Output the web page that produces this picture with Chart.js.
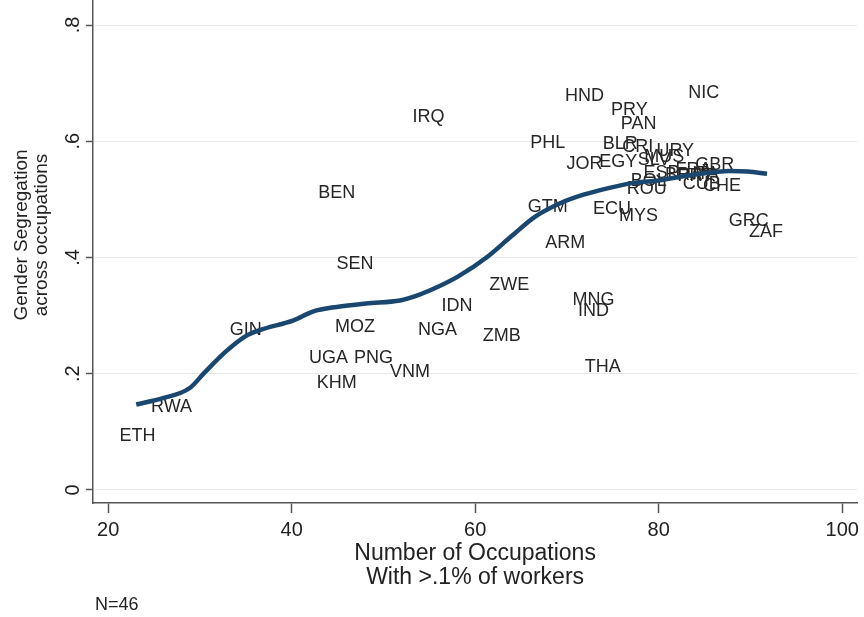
<!DOCTYPE html>
<html><head><meta charset="utf-8">
<script src="https://cdn.jsdelivr.net/npm/chart.js@4.4.1/dist/chart.umd.min.js"></script>
<style>html,body{margin:0;padding:0;background:#fff;}canvas{display:block;}</style>
</head><body>
<canvas id="c" width="864" height="617"></canvas>
<script>
const countries = ['ETH','RWA','GIN','UGA','PNG','KHM','MOZ','VNM','SEN','BEN',
  'IRQ','IDN','NGA','ZMB','ZWE','GTM','ARM','PHL','HND','JOR',
  'MNG','IND','THA','ECU','MYS','EGY','BLR','CRI','PRY','PAN',
  'SLV','URY','NIC','GBR','CHE','GRC','ZAF','ROU','BOL','MUS',
  'ESP','BRA','PRT','ITA','CUB','FRA'];
const occupations = [23.2,26.9,35.0,44.0,48.9,44.9,46.9,52.9,46.9,44.9,
  54.9,58.0,55.9,62.9,63.7,67.9,69.8,67.9,71.9,71.9,
  72.9,72.9,73.9,74.9,77.8,75.6,75.8,77.7,76.8,77.8,
  79.5,81.8,84.9,86.1,86.9,89.8,91.7,78.7,78.9,80.6,
  80.3,82.7,84.0,85.1,84.7,83.8];
const segregation = [0.093,0.143,0.275,0.227,0.227,0.184,0.280,0.203,0.389,0.511,
  0.642,0.317,0.275,0.265,0.353,0.487,0.425,0.597,0.678,0.561,
  0.327,0.308,0.212,0.483,0.471,0.565,0.595,0.590,0.654,0.630,
  0.568,0.583,0.683,0.559,0.523,0.463,0.444,0.518,0.532,0.573,
  0.545,0.542,0.540,0.544,0.526,0.551];
const lowessX = [23.05,25.95,28.85,30.44,32.8,34.9,36.5,40.2,42.3,44.9,48.1,51.8,53.4,56.0,58.1,61.3,63.9,66.5,69.2,71.8,74.4,77.1,79.7,82.35,85.0,87.6,89.7,91.8];
const lowessY = [0.147,0.158,0.175,0.201,0.238,0.264,0.275,0.292,0.307,0.315,0.321,0.326,0.333,0.350,0.367,0.401,0.436,0.470,0.493,0.508,0.519,0.528,0.532,0.539,0.545,0.549,0.548,0.544];
const xTicks = [20,40,60,80,100];
const yTicks = [0,0.2,0.4,0.6,0.8];
const yTickLabels = ['0','.2','.4','.6','.8'];
const xTitle = ['Number of Occupations','With >.1% of workers'];
const yTitle = ['Gender Segregation','across occupations'];
const note = 'N=46';

const FAM = '"Liberation Sans", Arial, Helvetica, sans-serif';

const labelPlugin = {
  id: 'textLabels',
  beforeDraw(chart){
    const ctx = chart.ctx;
    ctx.save(); ctx.fillStyle = '#fff'; ctx.fillRect(0,0,chart.width,chart.height); ctx.restore();
  },
  beforeDatasetsDraw(chart){
    const {ctx, scales:{x, y}} = chart;
    ctx.save();
    ctx.font = '18px ' + FAM;
    ctx.fillStyle = '#262626';
    ctx.textAlign = 'center';
    ctx.textBaseline = 'middle';
    countries.forEach((c, i) => {
      ctx.fillText(c, x.getPixelForValue(occupations[i]), y.getPixelForValue(segregation[i]));
    });
    ctx.restore();
  },
  afterDraw(chart){
    const {ctx, scales:{y}} = chart;
    ctx.save();
    ctx.font = '20px ' + FAM;
    ctx.fillStyle = '#222';
    ctx.textAlign = 'center';
    ctx.textBaseline = 'middle';
    yTicks.forEach((v, i) => {
      ctx.save();
      ctx.translate(y.right - 20, y.getPixelForValue(v));
      ctx.rotate(-Math.PI/2);
      ctx.fillText(yTickLabels[i], 0, 0);
      ctx.restore();
    });
    // y axis title (two lines, rotated)
    ctx.font = '19px ' + FAM;
    const cy = (y.top + y.bottom) / 2 - 17;
    yTitle.forEach((t, i) => {
      ctx.save();
      ctx.translate(22 + i * 20, cy);
      ctx.rotate(-Math.PI/2);
      ctx.fillText(t, 0, 0);
      ctx.restore();
    });
    ctx.font = '18px ' + FAM;
    ctx.textAlign = 'left';
    ctx.fillText(note, 95, 605);
    ctx.restore();
  }
};

new Chart(document.getElementById('c'), {
  type: 'scatter',
  data: {
    datasets: [
      { label: 'countries', data: occupations.map((v,i)=>({x:v, y:segregation[i]})), pointRadius: 0, showLine: false },
      { label: 'lowess', type: 'line', data: lowessX.map((v,i)=>({x:v, y:lowessY[i]})),
        borderColor: '#1a476f', borderWidth: 4.5, pointRadius: 0, fill: false,
        cubicInterpolationMode: 'monotone', borderCapStyle: 'butt', borderJoinStyle: 'round' }
    ]
  },
  options: {
    responsive: false, animation: false, devicePixelRatio: 1,
    layout: { padding: { left: 0, right: 4, top: 1, bottom: 0 } },
    plugins: { legend: { display: false }, tooltip: { enabled: false } },
    scales: {
      x: {
        type: 'linear', min: 18.34, max: 101.63,
        afterBuildTicks: s => { s.ticks = xTicks.map(v => ({ value: v })); },
        afterFit: s => { s.height = 114; },
        ticks: { font: { size: 20, family: FAM }, color: '#222', padding: 5, maxRotation: 0, autoSkip: false,
                 callback: v => String(v) },
        grid: { drawOnChartArea: false, drawTicks: true, tickLength: 10, tickColor: '#555', tickWidth: 1.5 },
        border: { display: true, color: '#555', width: 1.5 },
        title: { display: true, text: xTitle, font: { size: 23, family: FAM, lineHeight: 1.05 }, color: '#222',
                 padding: { top: 0, bottom: 27 } }
      },
      y: {
        type: 'linear', min: -0.02237, max: 0.8413,
        afterBuildTicks: s => { s.ticks = yTicks.map(v => ({ value: v })); },
        afterFit: s => { s.width = 93; },
        ticks: { display: false },
        grid: { color: '#e8e8e8', lineWidth: 1, drawTicks: true, tickLength: 7, tickColor: '#555', tickWidth: 1.5 },
        border: { display: true, color: '#555', width: 1.5 },
        title: { display: false }
      }
    }
  },
  plugins: [labelPlugin]
});
</script>
</body></html>
